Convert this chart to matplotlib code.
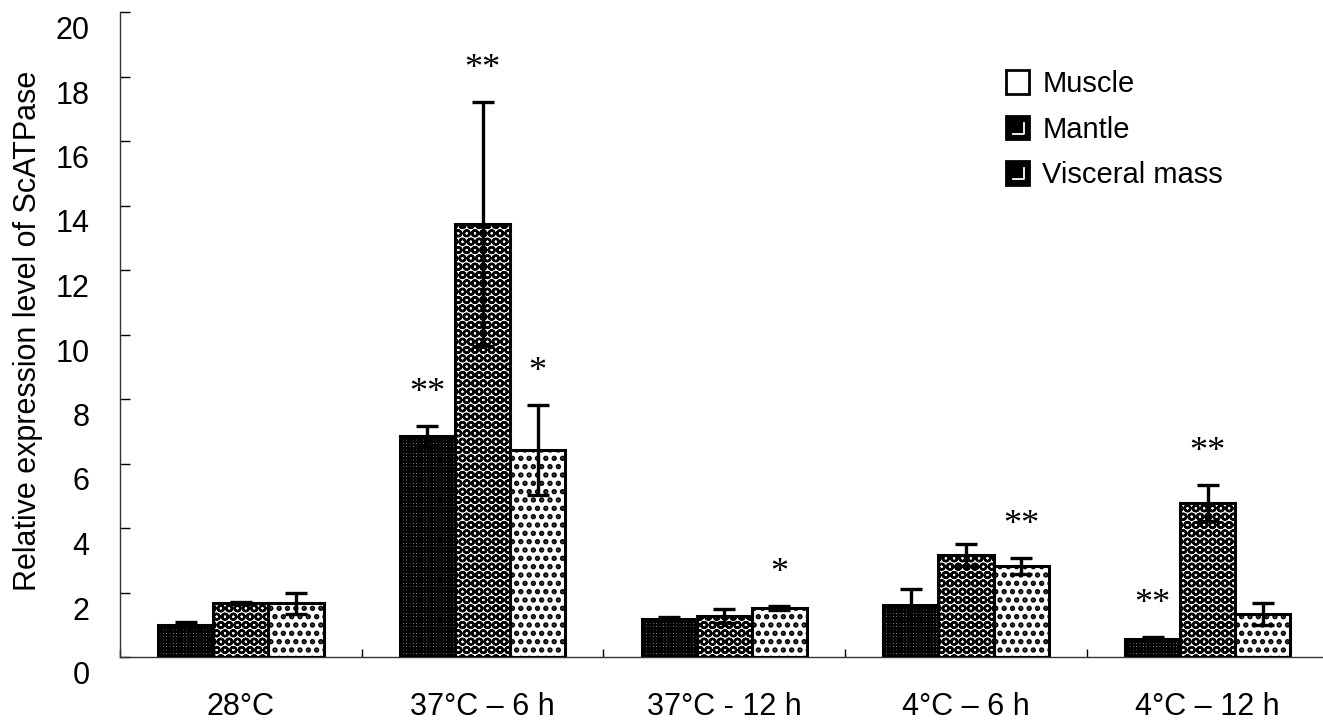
import numpy as np
import matplotlib
matplotlib.use("Agg")
import matplotlib.pyplot as plt
from matplotlib.patches import Rectangle, Patch
from matplotlib.lines import Line2D
from matplotlib.legend_handler import HandlerPatch
from matplotlib.transforms import ScaledTranslation

plt.rcParams['font.family'] = ['Liberation Sans', 'DejaVu Sans']

groups = ['28°C', '37°C – 6 h', '37°C - 12 h', '4°C – 6 h', '4°C – 12 h']
series = ['Muscle', 'Mantle', 'Visceral mass']

muscle = [1.00, 6.85, 1.18, 1.61, 0.56]
muscle_err = [0.08, 0.31, 0.07, 0.50, 0.06]
mantle = [1.67, 13.43, 1.27, 3.16, 4.78]
mantle_err = [0.03, 3.78, 0.22, 0.34, 0.55]
visceral = [1.67, 6.42, 1.52, 2.82, 1.33]
visceral_err = [0.33, 1.39, 0.07, 0.25, 0.34]

muscle_sig = ['', '**', '', '', '**']
mantle_sig = ['', '**', '', '', '**']
visceral_sig = ['', '*', '*', '**', '']

values = [muscle, mantle, visceral]
errors = [muscle_err, mantle_err, visceral_err]
sigs = [muscle_sig, mantle_sig, visceral_sig]
# (facecolor, hatch, hatch linewidth)
styles = [('white', '+++++', 1.8),
          ('white', 'OO', 1.7),
          ('white', '..', 2.6)]


class CornerSquare(HandlerPatch):
    # black legend square with a small white corner, like the original
    def create_artists(self, legend, orig_handle, xdescent, ydescent,
                       width, height, fontsize, trans):
        s = min(width, height)
        x0, y0 = -xdescent, -ydescent
        fc = orig_handle.get_facecolor()
        sq = Rectangle((x0, y0), s, s, facecolor=fc, edgecolor='black',
                       lw=2, transform=trans)
        arts = [sq]
        if orig_handle.get_label() != 'Muscle':
            ln = Line2D([x0 + 0.3*s, x0 + 0.78*s, x0 + 0.78*s],
                        [y0 + 0.22*s, y0 + 0.22*s, y0 + 0.7*s],
                        color='white', lw=1.3, transform=trans)
            arts.append(ln)
        return arts


fig = plt.figure(figsize=(13.23, 7.27), dpi=100)
ax = fig.add_axes([120/1323, 70/727, 1203/1323, 645/727])

x = np.arange(len(groups))
w = 0.228
for i in range(3):
    fc, hatch, hlw = styles[i]
    pos = x + (i - 1) * w
    with plt.rc_context({'hatch.linewidth': hlw}):
        ax.bar(pos, values[i], w, color=fc, edgecolor='black', hatch=hatch,
               linewidth=0, zorder=2)
    ax.bar(pos, values[i], w, fill=False, edgecolor='black',
           linewidth=2.2, zorder=3)
    ax.errorbar(pos, values[i], yerr=errors[i], fmt='none', ecolor='black',
                elinewidth=2.4, capsize=8, capthick=2.4, zorder=4)
    for p, v, e, s in zip(pos, values[i], errors[i], sigs[i]):
        if s:
            ax.text(p, v + e + 0.75, s, ha='center', va='baseline',
                    fontsize=26, family=['Liberation Serif', 'DejaVu Serif'])

ax.set_xlim(-0.5, -0.5 + 1203/241.7)
ax.set_ylim(0, 20)
ax.set_yticks(np.arange(0, 21, 2))
ax.set_xticks(x)
ax.set_xticklabels(groups)
ax.set_xticks(np.arange(-0.5, 4.5, 1), minor=True)
ax.tick_params(axis='x', which='major', length=0, pad=25, labelsize=22)
ax.tick_params(axis='x', which='minor', direction='in', length=6, width=1)
ax.tick_params(axis='y', direction='in', length=7, width=1, pad=22,
               labelsize=22)
for lab in ax.get_yticklabels():
    lab.set_transform(lab.get_transform() +
                      ScaledTranslation(0, -0.155, fig.dpi_scale_trans))

for sp in ['top', 'right']:
    ax.spines[sp].set_visible(False)
for sp in ['left', 'bottom']:
    ax.spines[sp].set_linewidth(1)
    ax.spines[sp].set_color('#333333')

ax.set_ylabel('Relative expression level of ScATPase', fontsize=22)
ax.yaxis.set_label_coords(-0.064, 0.505)

handles = [Patch(facecolor='white', label='Muscle'),
           Patch(facecolor='black', label='Mantle'),
           Patch(facecolor='black', label='Visceral mass')]
ax.legend(handles=handles, loc='upper left', frameon=False, fontsize=21,
          bbox_to_anchor=(1006/1323, 1 - 70/727),
          bbox_transform=fig.transFigure, handlelength=0.85, handleheight=0.85,
          handletextpad=0.4, labelspacing=0.6, borderpad=0, borderaxespad=0,
          handler_map={Patch: CornerSquare()})

fig.savefig('out.png', dpi=100)
